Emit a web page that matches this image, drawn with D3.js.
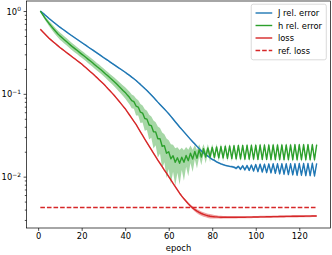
<!DOCTYPE html>
<html>
<head>
<meta charset="utf-8">
<script src="https://cdn.jsdelivr.net/npm/d3@7"></script>
<style>
  body { margin: 0; background: #fff; }
  svg { display: block; font-family: "DejaVu Sans", sans-serif; }
</style>
</head>
<body>
<div id="chart"></div>
<script>
// epochs 1..128
var firstEpoch = 1, lastEpoch = 128;
var epochs = d3.range(firstEpoch, lastEpoch + 1);

// J rel. error (mean over runs)
var jRelError = [
  1.000, 0.951, 0.904, 0.857, 0.813, 0.774, 0.738, 0.703, 0.670, 0.638,
  0.611, 0.585, 0.560, 0.536, 0.513, 0.492, 0.472, 0.453, 0.435, 0.417,
  0.400, 0.384, 0.368, 0.353, 0.339, 0.325, 0.312, 0.299, 0.287, 0.275,
  0.264, 0.254, 0.243, 0.233, 0.224, 0.215, 0.206, 0.198, 0.190, 0.182,
  0.174, 0.167, 0.159, 0.152, 0.145, 0.137, 0.130, 0.123, 0.116, 0.110,
  0.103, 0.0968, 0.0908, 0.0849, 0.0794, 0.0745, 0.0698, 0.0655, 0.0614, 0.0575,
  0.0535, 0.0497, 0.0461, 0.0429, 0.0398, 0.0372, 0.0347, 0.0324, 0.0302, 0.0282,
  0.0264, 0.0248, 0.0232, 0.0218, 0.0204, 0.0194, 0.0185, 0.0177, 0.0169, 0.0162,
  0.0157, 0.0151, 0.0147, 0.0143, 0.0140, 0.0137, 0.0135, 0.0133, 0.0132, 0.0130,
  0.0126, 0.0133, 0.0123, 0.0135, 0.0121, 0.0136, 0.0119, 0.0138, 0.0117, 0.0140,
  0.0115, 0.0141, 0.0114, 0.0141, 0.0112, 0.0142, 0.0111, 0.0143, 0.0110, 0.0143,
  0.0108, 0.0143, 0.0107, 0.0143, 0.0106, 0.0143, 0.0105, 0.0143, 0.0104, 0.0144,
  0.0104, 0.0144, 0.0103, 0.0144, 0.0103, 0.0145, 0.0102, 0.0145
];

// h rel. error (mean over runs)
var hRelError = [
  1.000, 0.912, 0.832, 0.767, 0.708, 0.658, 0.611, 0.569, 0.533, 0.501,
  0.475, 0.451, 0.428, 0.406, 0.385, 0.366, 0.349, 0.333, 0.317, 0.302,
  0.288, 0.274, 0.261, 0.249, 0.237, 0.225, 0.214, 0.204, 0.194, 0.184,
  0.174, 0.165, 0.156, 0.148, 0.140, 0.132, 0.124, 0.117, 0.110, 0.104,
  0.0966, 0.0902, 0.0826, 0.0804, 0.0713, 0.0692, 0.0600, 0.0586, 0.0504, 0.0495,
  0.0420, 0.0414, 0.0348, 0.0347, 0.0287, 0.0288, 0.0233, 0.0237, 0.0192, 0.0200,
  0.0164, 0.0179, 0.0149, 0.0169, 0.0145, 0.0172, 0.0149, 0.0180, 0.0156, 0.0192,
  0.0163, 0.0201, 0.0167, 0.0211, 0.0172, 0.0218, 0.0172, 0.0222, 0.0172, 0.0226,
  0.0171, 0.0229, 0.0169, 0.0231, 0.0168, 0.0233, 0.0166, 0.0235, 0.0165, 0.0237,
  0.0164, 0.0238, 0.0164, 0.0238, 0.0163, 0.0239, 0.0163, 0.0239, 0.0163, 0.0240,
  0.0162, 0.0241, 0.0162, 0.0241, 0.0162, 0.0241, 0.0161, 0.0242, 0.0161, 0.0242,
  0.0161, 0.0242, 0.0161, 0.0242, 0.0161, 0.0242, 0.0160, 0.0243, 0.0160, 0.0243,
  0.0160, 0.0243, 0.0160, 0.0243, 0.0160, 0.0243, 0.0160, 0.0243
];

// training loss (mean over runs)
var loss = [
  0.603, 0.565, 0.531, 0.498, 0.468, 0.445, 0.423, 0.402, 0.382, 0.363,
  0.347, 0.331, 0.316, 0.302, 0.288, 0.275, 0.263, 0.251, 0.240, 0.229,
  0.217, 0.206, 0.195, 0.185, 0.176, 0.166, 0.157, 0.148, 0.140, 0.132,
  0.124, 0.116, 0.109, 0.102, 0.0955, 0.0887, 0.0824, 0.0766, 0.0711, 0.0661,
  0.0605, 0.0555, 0.0508, 0.0466, 0.0427, 0.0385, 0.0348, 0.0315, 0.0284, 0.0257,
  0.0233, 0.0212, 0.0192, 0.0175, 0.0158, 0.0145, 0.0132, 0.0120, 0.0110, 0.0100,
  0.00912, 0.00832, 0.00759, 0.00692, 0.00631, 0.00582, 0.00540, 0.00504, 0.00471, 0.00442,
  0.00419, 0.00399, 0.00383, 0.00370, 0.00359, 0.00350, 0.00343, 0.00337, 0.00333, 0.00330,
  0.00328, 0.00327, 0.00325, 0.00324, 0.00324, 0.00323, 0.00323, 0.00323, 0.00323, 0.00323,
  0.00323, 0.00324, 0.00324, 0.00324, 0.00324, 0.00325, 0.00325, 0.00325, 0.00326, 0.00326,
  0.00326, 0.00327, 0.00327, 0.00327, 0.00328, 0.00328, 0.00328, 0.00329, 0.00329, 0.00329,
  0.00330, 0.00330, 0.00330, 0.00331, 0.00331, 0.00331, 0.00332, 0.00332, 0.00332, 0.00333,
  0.00333, 0.00333, 0.00334, 0.00334, 0.00334, 0.00335, 0.00335, 0.00335
];

var refLoss = 0.00425;

// relative spread (std / mean) of the runs, for the shaded bands
var jSpread = [
  0.010, 0.015, 0.020, 0.020, 0.020, 0.020, 0.020, 0.020, 0.020, 0.020,
  0.020, 0.020, 0.020, 0.020, 0.020, 0.020, 0.020, 0.020, 0.020, 0.020,
  0.020, 0.020, 0.020, 0.020, 0.020, 0.020, 0.020, 0.020, 0.020, 0.020,
  0.020, 0.020, 0.020, 0.020, 0.020, 0.020, 0.020, 0.020, 0.020, 0.020,
  0.020, 0.020, 0.020, 0.020, 0.020, 0.020, 0.020, 0.020, 0.020, 0.020,
  0.020, 0.020, 0.020, 0.020, 0.020, 0.020, 0.020, 0.020, 0.020, 0.020,
  0.025, 0.025, 0.025, 0.025, 0.025, 0.025, 0.025, 0.025, 0.025, 0.025,
  0.025, 0.025, 0.025, 0.025, 0.025, 0.025, 0.025, 0.025, 0.025, 0.025,
  0.025, 0.025, 0.025, 0.025, 0.025, 0.025, 0.025, 0.025, 0.030, 0.030,
  0.040, 0.035, 0.040, 0.035, 0.040, 0.035, 0.040, 0.035, 0.040, 0.035,
  0.040, 0.035, 0.040, 0.035, 0.040, 0.035, 0.040, 0.035, 0.040, 0.035,
  0.040, 0.035, 0.040, 0.035, 0.040, 0.035, 0.040, 0.035, 0.040, 0.035,
  0.040, 0.035, 0.040, 0.035, 0.040, 0.035, 0.040, 0.035
];

var hSpread = [
  0.010, 0.030, 0.050, 0.060, 0.070, 0.080, 0.085, 0.090, 0.095, 0.100,
  0.100, 0.100, 0.100, 0.100, 0.100, 0.100, 0.100, 0.100, 0.100, 0.100,
  0.100, 0.100, 0.105, 0.105, 0.105, 0.105, 0.105, 0.105, 0.105, 0.105,
  0.110, 0.115, 0.115, 0.120, 0.125, 0.130, 0.135, 0.140, 0.145, 0.155,
  0.165, 0.175, 0.190, 0.180, 0.230, 0.210, 0.260, 0.230, 0.290, 0.260,
  0.330, 0.290, 0.370, 0.310, 0.410, 0.340, 0.460, 0.370, 0.500, 0.380,
  0.500, 0.360, 0.480, 0.340, 0.450, 0.300, 0.400, 0.270, 0.350, 0.240,
  0.300, 0.200, 0.250, 0.170, 0.200, 0.140, 0.160, 0.120, 0.130, 0.100,
  0.110, 0.090, 0.100, 0.080, 0.090, 0.075, 0.080, 0.070, 0.075, 0.065,
  0.070, 0.060, 0.070, 0.060, 0.070, 0.060, 0.070, 0.060, 0.070, 0.060,
  0.070, 0.060, 0.070, 0.060, 0.070, 0.060, 0.070, 0.060, 0.070, 0.060,
  0.070, 0.060, 0.070, 0.060, 0.070, 0.060, 0.070, 0.060, 0.070, 0.060,
  0.070, 0.060, 0.070, 0.060, 0.070, 0.060, 0.070, 0.060
];

var lossSpread = [
  0.020, 0.020, 0.020, 0.020, 0.020, 0.020, 0.020, 0.020, 0.020, 0.020,
  0.020, 0.020, 0.020, 0.020, 0.020, 0.020, 0.020, 0.020, 0.020, 0.020,
  0.020, 0.020, 0.020, 0.020, 0.020, 0.020, 0.020, 0.020, 0.020, 0.020,
  0.020, 0.020, 0.020, 0.020, 0.020, 0.020, 0.020, 0.020, 0.020, 0.020,
  0.020, 0.020, 0.020, 0.020, 0.020, 0.020, 0.020, 0.020, 0.020, 0.020,
  0.030, 0.030, 0.030, 0.030, 0.030, 0.030, 0.030, 0.030, 0.030, 0.030,
  0.030, 0.030, 0.030, 0.030, 0.030, 0.030, 0.030, 0.030, 0.035, 0.040,
  0.045, 0.050, 0.055, 0.060, 0.060, 0.060, 0.060, 0.060, 0.060, 0.055,
  0.050, 0.045, 0.040, 0.040, 0.035, 0.035, 0.030, 0.030, 0.030, 0.030,
  0.030, 0.030, 0.030, 0.030, 0.030, 0.030, 0.030, 0.030, 0.030, 0.030,
  0.030, 0.030, 0.030, 0.030, 0.030, 0.030, 0.030, 0.030, 0.030, 0.030,
  0.030, 0.030, 0.030, 0.030, 0.030, 0.030, 0.030, 0.030, 0.030, 0.030,
  0.030, 0.030, 0.030, 0.030, 0.030, 0.030, 0.030, 0.030
];

var xTicks = [0, 20, 40, 60, 80, 100, 120];
var yTicks = [1, 0.1, 0.01];
var yTickExp = ["0", "\u22121", "\u22122"];
var yMinorTicks = [
  0.003, 0.004, 0.005, 0.006, 0.007, 0.008, 0.009,
  0.02, 0.03, 0.04, 0.05, 0.06, 0.07, 0.08, 0.09,
  0.2, 0.3, 0.4, 0.5, 0.6, 0.7, 0.8, 0.9
];
var legendLabels = ["J rel. error", "h rel. error", "loss", "ref. loss"];

var width = 332, height = 255;
var plotL = 26.5, plotR = 330.5, plotT = 1, plotB = 228;
var fontSize = 8.33;
var lineW = 1.4;
var colors = { J: "#1f77b4", h: "#2ca02c", loss: "#d62728" };

var svg = d3.select("#chart").append("svg")
    .attr("width", width)
    .attr("height", height);

var x = d3.scaleLinear().domain([-5.35, 134.35]).range([plotL, plotR]);
var y = d3.scaleLog().domain([0.0023988, 1.3213]).range([plotB, plotT]);

var series = [
  { key: "J", mean: jRelError, spread: jSpread },
  { key: "h", mean: hRelError, spread: hSpread },
  { key: "loss", mean: loss, spread: lossSpread }
];

// shaded bands first (under every line)
var band = d3.area()
    .x(function(d) { return x(d.e); })
    .y0(function(d) { return y(d.m * (1 - d.s)); })
    .y1(function(d) { return y(d.m * (1 + d.s)); });

var line = d3.line()
    .x(function(d) { return x(d.e); })
    .y(function(d) { return y(d.m); });

series.forEach(function(s) {
  s.points = epochs.map(function(e, i) { return { e: e, m: s.mean[i], s: s.spread[i] }; });
});

svg.append("g").selectAll("path")
    .data(series)
  .enter().append("path")
    .attr("d", function(s) { return band(s.points); })
    .attr("fill", function(s) { return colors[s.key]; })
    .attr("fill-opacity", 0.42)
    .attr("stroke", "none");

svg.append("g").selectAll("path")
    .data(series)
  .enter().append("path")
    .attr("d", function(s) { return line(s.points); })
    .attr("fill", "none")
    .attr("stroke", function(s) { return colors[s.key]; })
    .attr("stroke-width", lineW)
    .attr("stroke-linejoin", "round");

svg.append("line")
    .attr("x1", x(firstEpoch)).attr("x2", x(lastEpoch))
    .attr("y1", y(refLoss)).attr("y2", y(refLoss))
    .attr("stroke", colors.loss)
    .attr("stroke-width", lineW)
    .attr("stroke-dasharray", "4.6,2");

// axes
var xAxis = svg.append("g")
    .attr("transform", "translate(0," + plotB + ")")
    .call(d3.axisBottom(x).tickValues(xTicks).tickSize(2.9).tickPadding(2.4));

var yAxis = svg.append("g")
    .attr("transform", "translate(" + plotL + ",0)")
    .call(d3.axisLeft(y).tickValues(yTicks).tickSize(2.9).tickFormat(""));

var yMinor = svg.append("g")
    .attr("transform", "translate(" + plotL + ",0)")
    .call(d3.axisLeft(y).tickValues(yMinorTicks).tickSize(1.7).tickFormat(""));

[xAxis, yAxis, yMinor].forEach(function(g) {
  g.select(".domain").remove();
  g.attr("font-family", null).attr("font-size", null);
  g.selectAll(".tick line").attr("stroke", "#000").attr("stroke-width", 0.7);
});
xAxis.selectAll(".tick text")
    .attr("font-size", fontSize)
    .attr("fill", "#000");

var yLabels = svg.append("g").attr("font-size", fontSize).attr("fill", "#000");
yTicks.forEach(function(v, i) {
  var t = yLabels.append("text")
      .attr("x", plotL - 5.6)
      .attr("y", y(v) + 3.6)
      .attr("text-anchor", "end");
  t.append("tspan").text("10");
  t.append("tspan")
      .attr("dy", -3.6)
      .attr("font-size", 5.9)
      .text(yTickExp[i]);
});

// frame
svg.append("rect")
    .attr("x", plotL).attr("y", plotT)
    .attr("width", plotR - plotL).attr("height", plotB - plotT)
    .attr("fill", "none")
    .attr("stroke", "#000")
    .attr("stroke-width", 0.7);

svg.append("text")
    .attr("x", (plotL + plotR) / 2)
    .attr("y", 250.5)
    .attr("text-anchor", "middle")
    .attr("font-size", fontSize)
    .text("epoch");

// legend, upper right
var legendItems = [
  { label: legendLabels[0], color: colors.J, dash: null },
  { label: legendLabels[1], color: colors.h, dash: null },
  { label: legendLabels[2], color: colors.loss, dash: null },
  { label: legendLabels[3], color: colors.loss, dash: "4.6,2" }
];
var pad = 3.3, handleLen = 16.7, handleGap = 6.7, rowH = 12.5;
var legend = svg.append("g");
var box = legend.append("rect");
var texts = legend.selectAll("text.lbl")
    .data(legendItems)
  .enter().append("text")
    .attr("class", "lbl")
    .attr("font-size", fontSize)
    .text(function(d) { return d.label; });
var maxW = d3.max(texts.nodes(), function(n) { return n.getComputedTextLength(); });
var boxW = pad * 2 + handleLen + handleGap + maxW + 1;
var boxH = pad * 2 + rowH * legendItems.length - 1;
var bx = plotR - 4.2 - boxW, by = plotT + 3.2;

box.attr("x", bx).attr("y", by)
    .attr("width", boxW).attr("height", boxH)
    .attr("rx", 2)
    .attr("fill", "#fff").attr("fill-opacity", 0.8)
    .attr("stroke", "#ccc").attr("stroke-width", 0.7);

texts.attr("x", bx + pad + handleLen + handleGap)
    .attr("y", function(d, i) { return by + pad + 5.5 + rowH * i + 3; });

legend.selectAll("line")
    .data(legendItems)
  .enter().append("line")
    .attr("x1", bx + pad + 1)
    .attr("x2", bx + pad + 1 + handleLen)
    .attr("y1", function(d, i) { return by + pad + 5.5 + rowH * i; })
    .attr("y2", function(d, i) { return by + pad + 5.5 + rowH * i; })
    .attr("stroke", function(d) { return d.color; })
    .attr("stroke-width", lineW)
    .attr("stroke-dasharray", function(d) { return d.dash; });
</script>
</body>
</html>
